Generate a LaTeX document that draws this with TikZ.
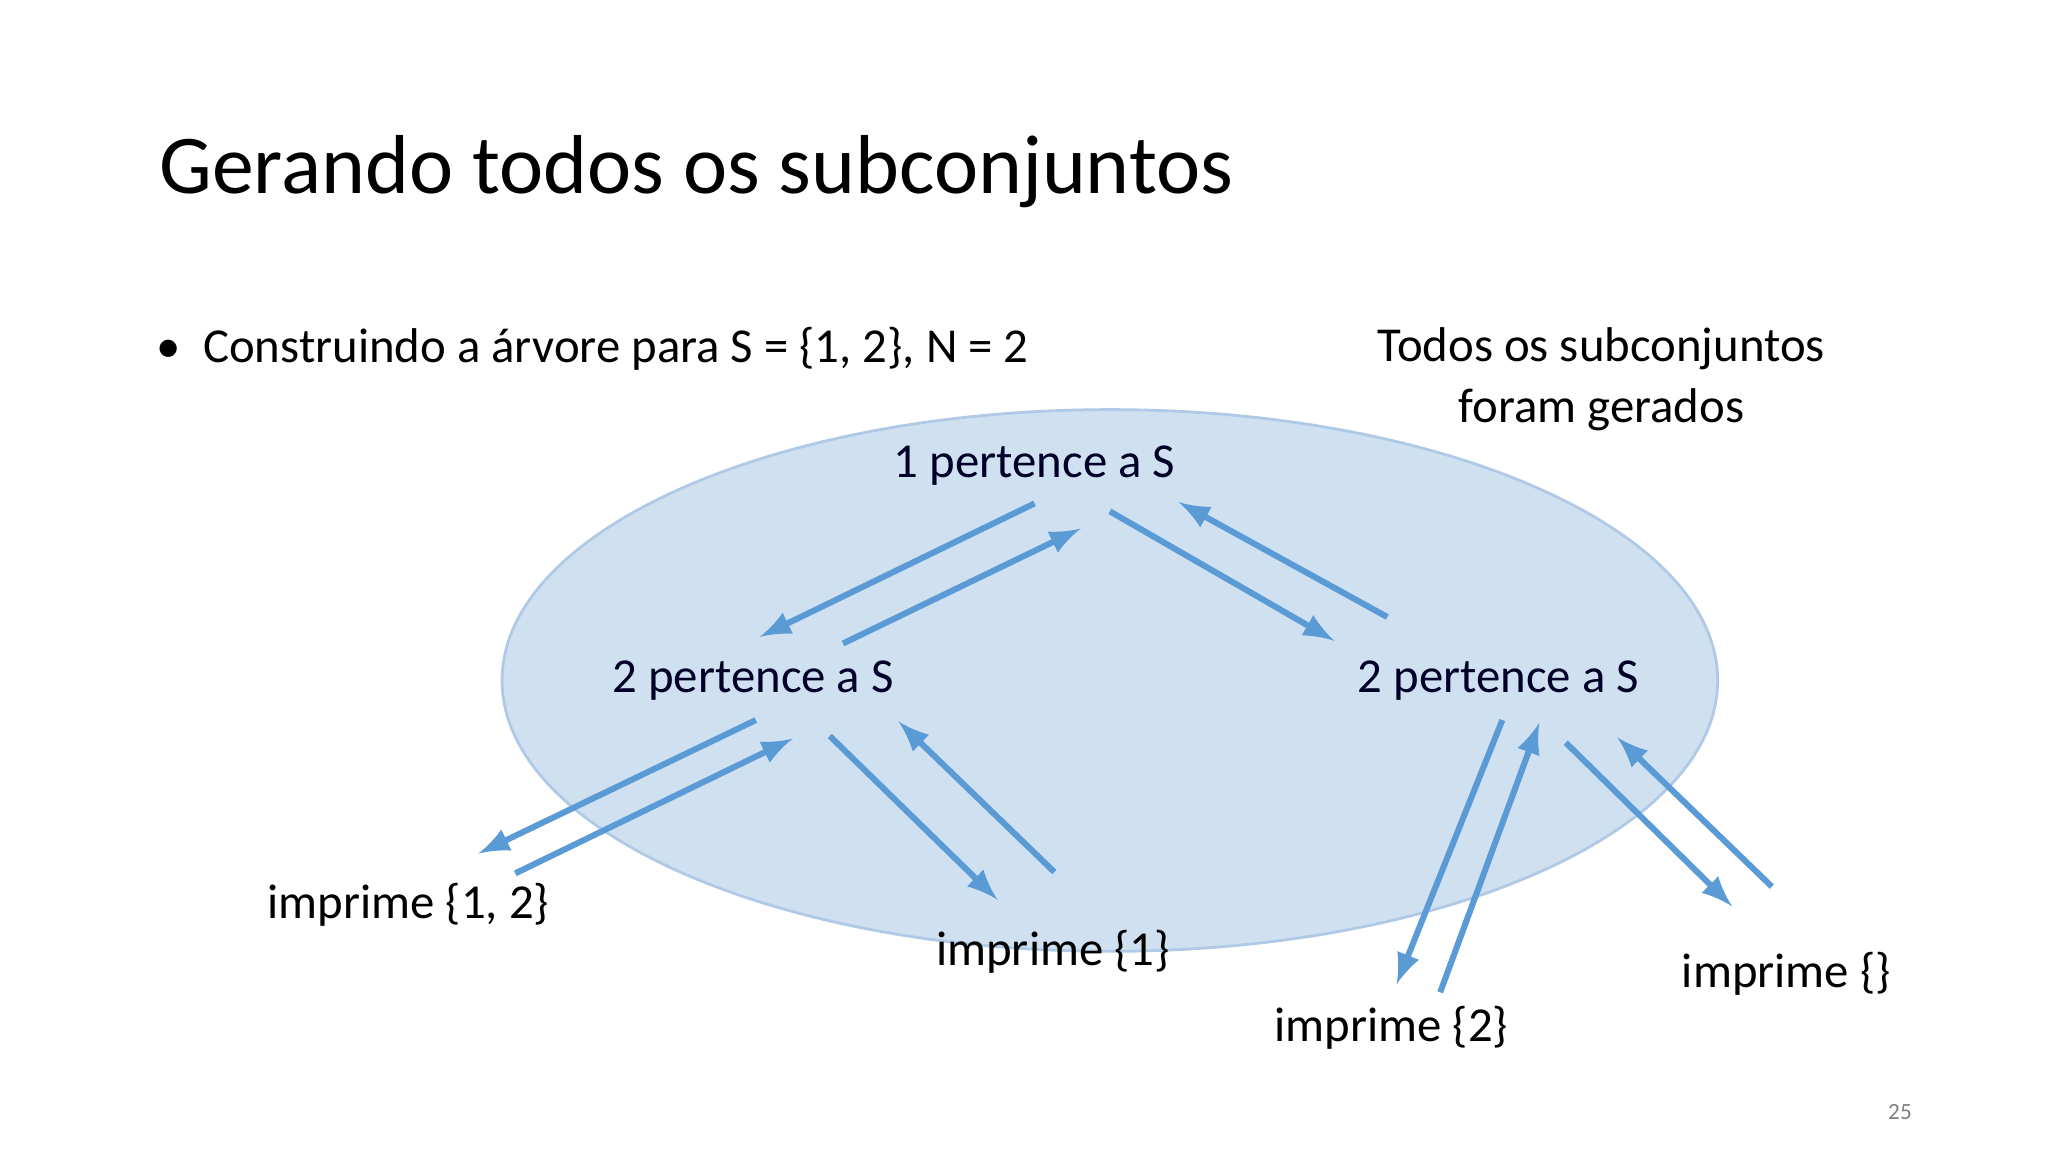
\documentclass[tikz,border=0pt]{standalone}
\usepackage{fontspec}
\setmainfont{Carlito}
\begin{document}
\begin{tikzpicture}[x=0.01cm,y=-0.01cm,
  txt/.style={font=\fontsize{10.5pt}{13pt}\selectfont, inner sep=0pt},
  lbl/.style={txt, text=black!85!blue},
  arr/.style={-latex, line width=1.3pt, draw=arrowblue}]
\definecolor{arrowblue}{HTML}{5B9BD5}
\definecolor{ellfill}{HTML}{CFE0F1}
\definecolor{elldraw}{HTML}{AFC9E6}
\useasboundingbox (0,0) rectangle (1550,872);
\fill[white] (0,0) rectangle (1550,872);
\draw[elldraw, fill=ellfill, line width=0.6pt] (840,515) ellipse [x radius=460, y radius=205];
\node[anchor=west, inner sep=0pt, font=\fontsize{18pt}{22pt}\selectfont] (title) at (120,130) {Gerando todos os subconjuntos};
\node[anchor=west, txt] (bullet) at (118,264) {\textbullet\ \ Construindo a árvore para S = \{1, 2\}, N = 2};
\node[txt, align=center] (todos) at (1212,287) {Todos os subconjuntos\\foram gerados};
\node[lbl] (n1) at (783,352) {1 pertence a S};
\node[lbl] (n2a) at (570,515) {2 pertence a S};
\node[lbl] (n2b) at (1134,515) {2 pertence a S};
\node[txt] (p12) at (309,685) {imprime \{1, 2\}};
\node[txt] (p1) at (797,720) {imprime \{1\}};
\node[txt] (p2) at (1053,778) {imprime \{2\}};
\node[txt] (p0) at (1352,737) {imprime \{\}};
\node[txt, text=gray, font=\fontsize{5pt}{6pt}\selectfont] (num) at (1438,842) {25};
\foreach \n/\a/\b in {a1/783/381,b1/575/482,a2/638/487,b2/818/400,a3/840/387,b3/1010/485,a4/1050/467,b4/892/380,
 a5/572/545,b5/362/646,a6/390/661,b6/600/559,a7/628/557,b7/755/681,a8/798/660,b8/680/546,
 a9/1137/545,b9/1057/745,a10/1090/751,b10/1165/547,a11/1185/562,b11/1311/686,a12/1341/671,b12/1224/558}
  {\coordinate (\n) at (\a,\b);}
\foreach \i in {1,...,12} {\draw[arr] (a\i) -- (b\i);}
\end{tikzpicture}
\end{document}
